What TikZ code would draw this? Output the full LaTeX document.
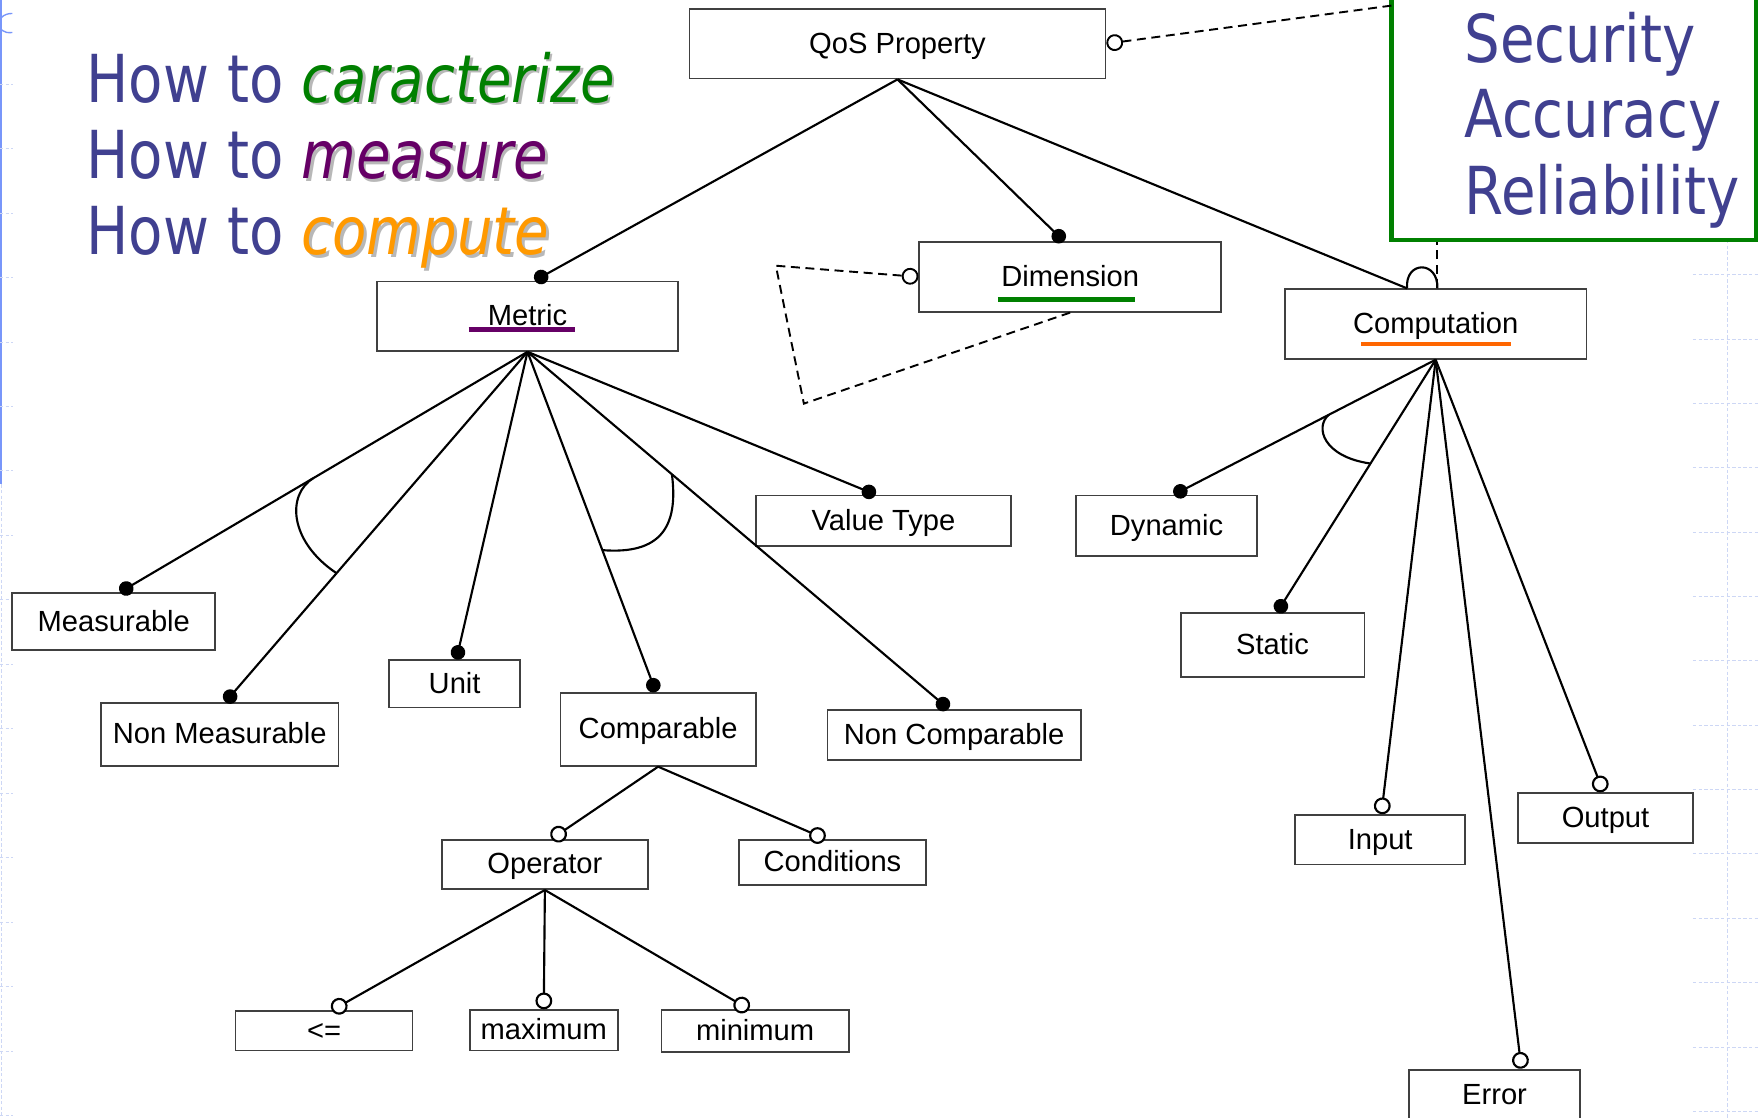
\documentclass[tikz,border=0pt]{standalone}
\usepackage{fontspec}
\setmainfont{Liberation Sans}
\newfontfamily\slidefont[FakeStretch=0.85]{DejaVu Sans}
\usetikzlibrary{arrows.meta,calc}

\definecolor{slideblue}{RGB}{64,64,144}
\definecolor{cgreen}{RGB}{0,128,0}
\definecolor{cpurple}{RGB}{102,0,102}
\definecolor{corange}{RGB}{255,153,0}
\definecolor{uorange}{RGB}{255,102,0}
\definecolor{gridc}{RGB}{205,215,245}
\definecolor{edgeblue}{RGB}{120,150,250}

% word with a soft drop shadow
\newcommand\shadtxt[2]{\rlap{\kern2.5pt\raisebox{-2.5pt}{\textcolor{black!28}{#2}}}\textcolor{#1}{#2}}

\begin{document}
\begin{tikzpicture}[x=1pt,y=-1pt,
  box/.style={draw=black!75, line width=1.6pt, fill=white, inner sep=0pt,
    font=\fontsize{26}{30}\selectfont, text height=19pt, text depth=2pt},
  conn/.style={line width=1.9pt, black},
  dotend/.style={conn, -{Circle[length=13pt,width=13pt]}},
  ringend/.style={conn, -{Circle[open,length=15pt,width=15pt,fill=white]}},
  dashln/.style={line width=1.7pt, dash pattern=on 8pt off 5pt},
  dashring/.style={dashln, -{Circle[open,length=15pt,width=15pt,fill=white]}},
  uline/.style={line width=4pt},
  slidetext/.style={font=\slidefont\fontsize{59}{68}\selectfont, text=slideblue, inner sep=0pt, anchor=base west},
  gridln/.style={gridc, line width=0.8pt, dash pattern=on 3pt off 2pt}
]
\useasboundingbox (0,0) rectangle (1568,997);
\clip (0,0) rectangle (1568,997);
\fill[white] (0,0) rectangle (1568,997);

% slide template lines at the edges
\draw[edgeblue, line width=2pt] (1,0) -- (1,432);
\draw[gridln] (1,432) -- (1,997);
\foreach \yy in {75,132.5,...,997} \draw[gridln] (0,\yy) -- (12,\yy);
\draw[edgeblue, line width=1.2pt] (11,12) .. controls (-5,12) and (-5,31) .. (11,29);
\draw[gridln] (1541,214) -- (1541,997);
\foreach \yy in {245,302.4,...,997} \draw[gridln] (1510,\yy) -- (1568,\yy);

% headline
\node[slidetext] (t1) at (77,91) {How to \shadtxt{cgreen}{\itshape caracterize}};
\node[slidetext] (t2) at (77,159) {How to \shadtxt{cpurple}{\itshape measure}};
\node[slidetext] (t3) at (77,227) {How to \shadtxt{corange}{\itshape compute}};

% quality attributes box
\node[draw=cgreen, line width=4pt, minimum width=325pt, minimum height=240pt, inner sep=0pt] (sec) at (1403.5,94) {};
\node[slidetext] (s1) at (1306,56) {Security};
\node[slidetext] (s2) at (1306,123) {Accuracy};
\node[slidetext] (s3) at (1306,191) {Reliability};

% feature boxes
\node[box, minimum width=371pt, minimum height=62pt] (qos) at (800.5,39) {QoS Property};
\node[box, minimum width=269pt, minimum height=62pt] (metric) at (470.5,282) {Metric};
\node[box, minimum width=269pt, minimum height=62pt] (dim) at (954.5,247) {Dimension};
\node[box, minimum width=269pt, minimum height=62pt] (comp) at (1280.5,289) {Computation};
\node[box, minimum width=181pt, minimum height=51pt] (meas) at (101.5,554.5) {Measurable};
\node[box, minimum width=212pt, minimum height=56pt] (nonmeas) at (196,655) {Non Measurable};
\node[box, minimum width=117pt, minimum height=42pt] (unit) at (405.5,610) {Unit};
\node[box, minimum width=174pt, minimum height=65pt] (compar) at (587,650.5) {Comparable};
\node[box, minimum width=228pt, minimum height=45pt] (vtype) at (788,464.5) {Value Type};
\node[box, minimum width=226pt, minimum height=45pt] (noncomp) at (851,655.5) {Non Comparable};
\node[box, minimum width=184pt, minimum height=44pt] (oper) at (486,771) {Operator};
\node[box, minimum width=167pt, minimum height=40pt] (cond) at (742.5,769) {Conditions};
\node[box, minimum width=158pt, minimum height=35pt] (le) at (289,919.5) {<=};
\node[box, minimum width=132pt, minimum height=36pt] (max) at (485,919) {maximum};
\node[box, minimum width=167pt, minimum height=37pt] (min) at (673.5,919.5) {minimum};
\node[box, minimum width=161pt, minimum height=54pt] (dyn) at (1040.5,469) {Dynamic};
\node[box, minimum width=164pt, minimum height=57pt] (stat) at (1135,575.5) {Static};
\node[box, minimum width=152pt, minimum height=44pt] (input) at (1231,749) {Input};
\node[box, minimum width=156pt, minimum height=45pt] (output) at (1432,729.5) {Output};
\node[box, minimum width=152pt, minimum height=46pt] (error) at (1333,977) {Error};

% coloured underlines
\draw[uline, cpurple] ($(metric.center)+(-52.5,12)$) -- ++(95,0);
\draw[uline, cgreen] ($(dim.center)+(-64.5,20)$) -- ++(122,0);
\draw[uline, uorange] ($(comp.center)+(-66.5,18)$) -- ++(134,0);

% end points on the child boxes
\coordinate (eMetric) at ([xshift=6.5]metric.north);
\coordinate (eDim) at ([xshift=-5.5]dim.north);
\coordinate (arcL) at ([xshift=-25.5]comp.north);
\coordinate (arcR) at ([xshift=1.5]comp.north);
\coordinate (eMeas) at ([xshift=5.5]meas.north);
\coordinate (eNonMeas) at ([xshift=5]nonmeas.north);
\coordinate (eUnit) at ([xshift=1.5]unit.north);
\coordinate (eCompar) at ([xshift=-2]compar.north);
\coordinate (eNonComp) at ([xshift=-5]noncomp.north);
\coordinate (eVType) at ([xshift=-7]vtype.north);
\coordinate (eOper) at ([xshift=6]oper.north);
\coordinate (eCond) at ([xshift=-6.5]cond.north);
\coordinate (eLe) at ([xshift=7]le.north);
\coordinate (eMax) at (max.north);
\coordinate (eMin) at ([xshift=-5.5]min.north);
\coordinate (eDyn) at ([xshift=6.5]dyn.north);
\coordinate (eStat) at ([xshift=4]stat.north);
\coordinate (eInput) at ([xshift=1]input.north);
\coordinate (eError) at ([xshift=24]error.north);
\coordinate (eOutput) at ([xshift=-2]output.north);

% QoS property
\draw[dotend] (qos.south) -- (eMetric);
\draw[dotend] (qos.south) -- (eDim);
\draw[conn] (qos.south) -- (arcL);
\draw[conn] (arcL) .. controls +(-2,-25) and +(1,-25) .. (arcR);
\draw[dashln] (arcR) -- (arcR |- sec.south);
\coordinate (secJoin) at (1241,5);
\draw[dashring] (secJoin) -- (qos.east);

% dimension self reference
\coordinate (loopA) at (717,360);
\coordinate (loopB) at (692,237);
\draw[dashring] (dim.south) -- (loopA) -- (loopB) -- (dim.west);

% metric
\draw[dotend] (metric.south) -- (eMeas);
\draw[dotend] (metric.south) -- (eNonMeas);
\draw[dotend] (metric.south) -- (eUnit);
\draw[dotend] (metric.south) -- (eCompar);
\draw[dotend] (metric.south) -- (eNonComp);
\draw[dotend] (metric.south) -- (eVType);
\coordinate (g1a) at ($(metric.south)!0.526!(eMeas)$);
\coordinate (g1b) at ($(metric.south)!0.632!(eNonMeas)$);
\draw[conn] (g1a) .. controls +(-24,15) and +(-42,-28) .. (g1b);
\coordinate (g2a) at ($(metric.south)!0.343!(eNonComp)$);
\coordinate (g2b) at ($(metric.south)!0.583!(eCompar)$);
\draw[conn] (g2a) .. controls +(6,47) and +(52,4) .. (g2b);

% comparable
\draw[ringend] (compar.south) -- (eOper);
\draw[ringend] (compar.south) -- (eCond);
\draw[ringend] (oper.south) -- (eLe);
\draw[ringend] (oper.south) -- (eMax);
\draw[ringend] (oper.south) -- (eMin);

% computation
\draw[dotend] (comp.south) -- (eDyn);
\draw[dotend] (comp.south) -- (eStat);
\draw[ringend] (comp.south) -- (eInput);
\draw[ringend] (comp.south) -- (eError);
\draw[ringend] (comp.south) -- (eOutput);
\coordinate (g3a) at ($(comp.south)!0.408!(eDyn)$);
\coordinate (g3b) at ($(comp.south)!0.411!(eStat)$);
\draw[conn] (g3a) .. controls +(-13,11) and +(-42,-6) .. (g3b);
\end{tikzpicture}
\end{document}
